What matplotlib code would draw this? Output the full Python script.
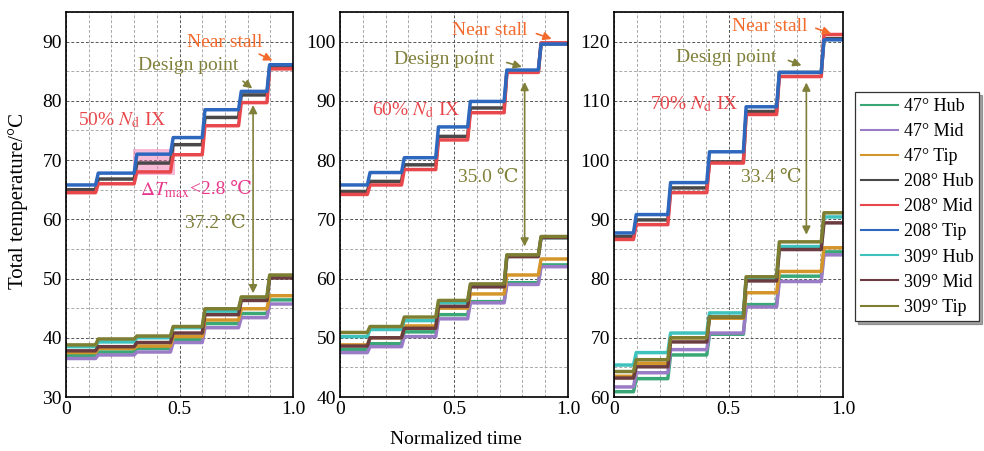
import matplotlib
matplotlib.use("Agg")
import matplotlib.pyplot as plt
from matplotlib.patches import Rectangle

# ---- Fonts ---- #
plt.rcParams["font.family"] = ["Liberation Serif", "DejaVu Serif"]
plt.rcParams["mathtext.fontset"] = "stix"

# ---- Data ---- #
labels = ["47° Hub", "47° Mid", "47° Tip",
          "208° Hub", "208° Mid", "208° Tip",
          "309° Hub", "309° Mid", "309° Tip"]
colors = ["#3aa876", "#9a7cc6", "#d4962a",
          "#4a4848", "#e8474c", "#2e68be",
          "#3ec2bd", "#6a3c40", "#7e7e32"]

# step times (normalized) for each speed line
steps_50 = [0.13, 0.30, 0.46, 0.60, 0.76, 0.885]
steps_60 = [0.12, 0.27, 0.42, 0.56, 0.72, 0.87]
steps_70 = [0.085, 0.235, 0.405, 0.565, 0.71, 0.905]

# plateau temperatures (°C), one row per probe
levels_50 = [
    [37.0, 37.6, 38.2, 39.7, 42.4, 44.1, 46.4],
    [36.5, 37.1, 37.6, 39.2, 41.7, 43.4, 45.7],
    [37.5, 38.2, 38.6, 40.2, 43.0, 44.9, 47.1],
    [65.0, 66.8, 69.5, 72.6, 77.2, 81.0, 85.8],
    [64.5, 66.0, 68.0, 70.9, 75.8, 79.7, 85.4],
    [65.8, 67.8, 71.0, 73.8, 78.5, 81.6, 86.1],
    [38.5, 39.3, 40.0, 41.7, 44.5, 46.7, 50.3],
    [37.8, 38.5, 39.2, 40.8, 43.9, 46.3, 50.1],
    [38.8, 39.8, 40.3, 41.9, 44.9, 46.9, 50.6],
]
levels_60 = [
    [48.0, 49.0, 51.0, 53.9, 56.1, 59.3, 62.3],
    [47.5, 48.5, 50.2, 53.2, 55.9, 59.0, 62.0],
    [48.8, 50.0, 52.0, 55.0, 57.4, 60.6, 63.3],
    [74.7, 76.4, 79.2, 84.0, 88.8, 95.0, 99.6],
    [74.2, 75.8, 78.4, 83.4, 88.0, 94.8, 99.8],
    [75.8, 77.9, 80.4, 85.6, 89.9, 95.2, 99.6],
    [50.2, 51.4, 52.9, 55.9, 58.8, 63.9, 66.9],
    [48.6, 50.0, 51.6, 55.3, 58.6, 63.7, 66.9],
    [50.9, 51.9, 53.5, 56.3, 59.1, 64.0, 67.1],
]
levels_70 = [
    [60.9, 63.1, 67.1, 70.6, 75.6, 80.4, 84.5],
    [61.7, 64.1, 68.0, 70.8, 75.2, 79.5, 84.0],
    [63.5, 65.7, 70.0, 73.3, 77.6, 81.2, 85.2],
    [87.1, 89.9, 95.3, 99.7, 108.2, 114.8, 120.5],
    [86.6, 89.1, 94.5, 99.5, 107.7, 114.1, 121.2],
    [87.7, 90.8, 96.2, 101.4, 109.0, 114.8, 120.3],
    [65.4, 67.5, 70.8, 74.2, 80.0, 85.4, 90.4],
    [63.2, 65.1, 69.3, 73.5, 79.6, 84.9, 89.4],
    [64.3, 66.3, 70.0, 73.5, 80.3, 86.2, 91.1],
]

speed_labels = ["50% $N_{\\rm d}$ IX", "60% $N_{\\rm d}$ IX", "70% $N_{\\rm d}$ IX"]
delta_labels = ["37.2 ℃", "35.0 ℃", "33.4 ℃"]

RED = "#e8474c"
ORANGE = "#f26a2c"
OLIVE = "#80803a"
PINK = "#e83a8c"
FS = 14


def step_trace(steps, levels, ramp=0.012):
    xs, ys = [0.0], [levels[0]]
    for t, a, b in zip(steps, levels[:-1], levels[1:]):
        xs += [t, t + ramp]
        ys += [a, b]
    xs.append(1.0)
    ys.append(levels[-1])
    return xs, ys


fig = plt.figure(figsize=(9.84, 4.51), dpi=100)
positions = [[0.0671, 0.1197, 0.2307, 0.8537],
             [0.3455, 0.1197, 0.2317, 0.8537],
             [0.6240, 0.1197, 0.2327, 0.8537]]
ylims = [(30, 95), (40, 105), (60, 125)]
panels = [(steps_50, levels_50), (steps_60, levels_60), (steps_70, levels_70)]

# annotation spots per panel (data coords)
speed_xy = [(0.053, 76.8), (0.14, 88.5), (0.157, 109.4)]
stall_txt = [(0.70, 89.8), (0.658, 101.9), (0.68, 122.5)]
stall_arrow = [((0.84, 88.1), (0.92, 86.6)), ((0.85, 101.5), (0.94, 100.3)),
               ((0.87, 122.4), (0.96, 121.2))]
design_txt = [(0.54, 85.9), (0.456, 97.0), (0.49, 117.3)]
design_arrow = [((0.77, 83.6), (0.83, 81.8)), ((0.72, 96.6), (0.81, 95.6)),
                ((0.75, 117.0), (0.83, 115.8))]
delta_xy = [(0.66, 59.3), (0.65, 77.0), (0.686, 97.0)]
darrow = [(0.824, 79.3, 47.5), (0.81, 93.2, 65.4), (0.84, 113.1, 87.4)]

axes = []
for k, (pos, ylim, (steps, levels)) in enumerate(zip(positions, ylims, panels)):
    ax = fig.add_axes(pos)
    axes.append(ax)
    for lv, c, lab in zip(levels, colors, labels):
        xs, ys = step_trace(steps, lv)
        ax.plot(xs, ys, color=c, lw=2.5, label=lab)
    ax.set_xlim(0, 1.0)
    ax.set_ylim(*ylim)
    ax.set_xticks([0, 0.5, 1.0])
    ax.set_xticklabels(["0", "0.5", "1.0"])
    ax.set_xticks([i / 10 for i in range(11)], minor=True)
    ax.set_yticks(range(ylim[0], ylim[1], 10))
    ax.set_yticks(range(ylim[0], ylim[1] + 1, 5), minor=True)
    ax.grid(True, which="major", color="#555555", ls=(0, (3, 2)), lw=0.7)
    ax.grid(True, which="minor", color="#aaaaaa", ls=(0, (3, 2)), lw=0.7)
    ax.tick_params(which="both", length=0, labelsize=FS, pad=3)
    for sp in ax.spines.values():
        sp.set_linewidth(1.2)
    ax.set_axisbelow(True)

    ax.text(speed_xy[k][0], speed_xy[k][1], speed_labels[k], color=RED,
            fontsize=FS, va="center", ha="left")
    ax.text(*stall_txt[k], "Near stall", color=ORANGE, fontsize=FS,
            ha="center", va="center")
    ax.annotate("", xy=stall_arrow[k][1], xytext=stall_arrow[k][0],
                arrowprops=dict(arrowstyle="-|>", color=ORANGE, lw=1.2,
                                mutation_scale=12))
    ax.text(*design_txt[k], "Design point", color=OLIVE, fontsize=FS,
            ha="center", va="center")
    ax.annotate("", xy=design_arrow[k][1], xytext=design_arrow[k][0],
                arrowprops=dict(arrowstyle="-|>", color=OLIVE, lw=1.2,
                                mutation_scale=12))
    xa, ytop, ybot = darrow[k]
    ax.annotate("", xy=(xa, ytop), xytext=(xa, ybot),
                arrowprops=dict(arrowstyle="<|-|>", color=OLIVE, lw=1.2,
                                mutation_scale=12, shrinkA=0, shrinkB=0))
    ax.text(*delta_xy[k], delta_labels[k], color=OLIVE, fontsize=FS,
            ha="center", va="center")

# highlighted box in first panel
axes[0].add_patch(Rectangle((0.295, 67.5), 0.185, 4.3, color="#f06aa8",
                            alpha=0.45, lw=0, zorder=1))
axes[0].text(0.546, 65.0, "$\\Delta T_{\\rm max}$", color=PINK,
             fontsize=FS, ha="right", va="center")
axes[0].text(0.546, 65.0, "<2.8 ℃", color=PINK,
             fontsize=FS, ha="left", va="center")

fig.text(0.018, 0.555, "Total temperature/°C", rotation=90, fontsize=FS + 1,
         ha="center", va="center")
fig.text(0.463, 0.025, "Normalized time", fontsize=FS, ha="center", va="center")

handles, labs = axes[0].get_legend_handles_labels()
leg = fig.legend(handles, labs, loc="upper left",
                 bbox_to_anchor=(0.869, 0.795), fontsize=13, frameon=True,
                 fancybox=False, shadow=True, handlelength=2.1,
                 handletextpad=0.3, labelspacing=0.45, borderpad=0.3,
                 borderaxespad=0)
leg.get_frame().set_edgecolor("#333333")
leg.get_frame().set_linewidth(0.9)
for line in leg.get_lines():
    line.set_linewidth(1.5)

fig.savefig("out.png", dpi=100)
